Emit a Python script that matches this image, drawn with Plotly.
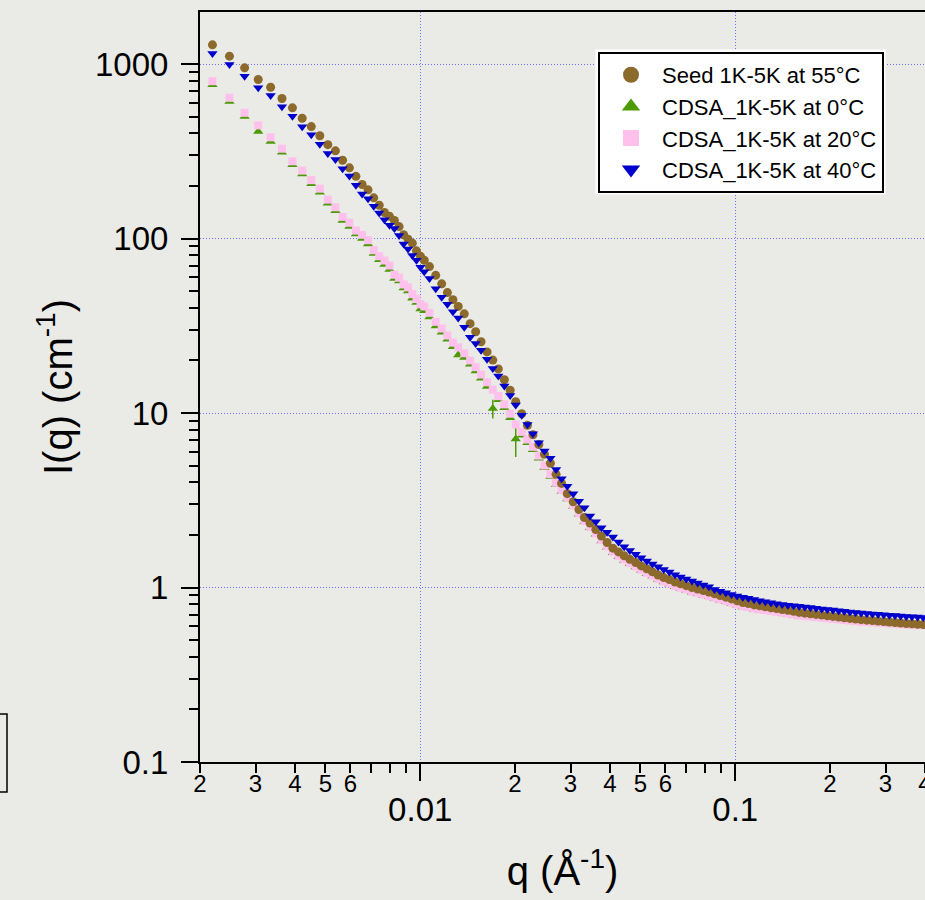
import plotly.graph_objects as go

# ---------------- data ----------------
q = [
    0.00219, 0.00248, 0.00277, 0.00306, 0.00335, 0.00364, 0.00393, 0.00422, 0.00451, 0.00480,
    0.00509, 0.00538, 0.00567, 0.00596, 0.00625, 0.00654, 0.00683, 0.00712, 0.00741, 0.00770,
    0.00799, 0.00828, 0.00857, 0.00886, 0.00915, 0.00944, 0.00973, 0.01002,
    0.0103, 0.0107, 0.0112, 0.0117, 0.0122, 0.0127, 0.0132, 0.0138, 0.0144, 0.0150,
    0.0156, 0.0163, 0.0170, 0.0177, 0.0185, 0.0193, 0.0201, 0.0210, 0.0219, 0.0228,
    0.0238, 0.0248, 0.0259, 0.0270, 0.0281, 0.0293, 0.0306, 0.0319, 0.0332, 0.0346,
    0.0361, 0.0376, 0.0392, 0.0409, 0.0426, 0.0444, 0.0463, 0.0483, 0.0503, 0.0524,
    0.0546, 0.0569, 0.0593, 0.0618, 0.0644, 0.0671, 0.0699, 0.0729, 0.0760, 0.0792,
    0.0825, 0.0860, 0.0896, 0.0934, 0.0973, 0.1014, 0.1057, 0.1101, 0.1148, 0.1196,
    0.1246, 0.1299, 0.1353, 0.1410, 0.1470, 0.1532, 0.1596, 0.1663, 0.1733, 0.1806,
    0.1882, 0.1961, 0.2044, 0.2130, 0.2219, 0.2313, 0.2410, 0.2511, 0.2617, 0.2727,
    0.2842, 0.2962, 0.3086, 0.3216, 0.3351, 0.3492, 0.3639, 0.3793, 0.3952, 0.4119,
]

seed_55 = [
    1288, 1109, 951, 815, 736, 634, 561, 489, 438, 388,
    345, 318, 281, 254, 227, 204, 190, 171, 155, 141,
    134, 127, 117, 105, 99, 94, 85, 79,
    75, 69, 61.5, 55, 49, 44.6, 40.8, 37, 32.5, 29.2,
    25.6, 22.4, 20.1, 17.9, 15.5, 13.5, 11.6, 9.9, 8.5, 7.5,
    6.6, 5.8, 5.15, 4.45, 3.95, 3.45, 3.10, 2.80, 2.52, 2.34,
    2.15, 1.97, 1.81, 1.68, 1.60, 1.52, 1.45, 1.39, 1.33, 1.28,
    1.23, 1.18, 1.14, 1.11, 1.075, 1.05, 1.025, 1.000, 0.98, 0.96,
    0.94, 0.92, 0.90, 0.88, 0.86, 0.84, 0.82, 0.81, 0.795, 0.785,
    0.775, 0.765, 0.757, 0.748, 0.740, 0.730, 0.720, 0.713, 0.707, 0.701,
    0.695, 0.689, 0.683, 0.677, 0.671, 0.665, 0.659, 0.654, 0.650, 0.646,
    0.642, 0.638, 0.634, 0.630, 0.626, 0.622, 0.619, 0.616, 0.613, 0.610,
]

cdsa_0 = [
    760, 610, 500, 410, 360, 312, 265, 234, 206, 184,
    159, 144, 127, 117, 106, 100, 93, 82, 75.5, 71,
    66.5, 59, 57, 52, 50, 45.5, 43, 39.5,
    38.5, 35.5, 31.5, 29, 26.5, 24, 21.5, 20.8, 19.0, 17.4,
    15.8, 14.2, 10.6, 11.9, 10.7, 9.4, 7.1, 7.45, 6.75, 6.15,
    5.5, 4.85, 4.33, 3.88, 3.54, 3.22, 2.91, 2.63, 2.38, 2.20,
    2.02, 1.85, 1.70, 1.58, 1.50, 1.43, 1.37, 1.31, 1.25, 1.20,
    1.16, 1.11, 1.075, 1.045, 1.01, 0.988, 0.965, 0.940, 0.922, 0.903,
    0.884, 0.865, 0.846, 0.828, 0.810, 0.792, 0.774, 0.764, 0.750, 0.741,
    0.734, 0.725, 0.718, 0.710, 0.703, 0.694, 0.685, 0.679, 0.674, 0.669,
    0.664, 0.659, 0.654, 0.649, 0.644, 0.640, 0.635, 0.631, 0.628, 0.625,
    0.622, 0.619, 0.616, 0.613, 0.610, 0.607, 0.605, 0.603, 0.601, 0.599,
]

cdsa_0_err = [
    0, 0, 0, 0, 0, 0, 0, 0, 0, 0,
    0, 0, 0, 0, 0, 0, 0, 0, 0, 0,
    0, 0, 0, 0, 0, 0, 0, 0,
    0, 0, 0, 0, 0, 0, 0, 0, 0, 0,
    0, 0, 1.3, 0, 0, 0, 1.5, 0, 0, 0,
    0, 0, 0, 0, 0, 0, 0, 0, 0, 0,
    0, 0, 0, 0, 0, 0, 0, 0, 0, 0,
    0, 0, 0, 0, 0, 0, 0, 0, 0, 0,
    0, 0, 0, 0, 0, 0, 0, 0, 0, 0,
    0, 0, 0, 0, 0, 0, 0, 0, 0, 0,
    0, 0, 0, 0, 0, 0, 0, 0, 0, 0,
    0, 0, 0, 0, 0, 0, 0, 0, 0, 0,
]

cdsa_20 = [
    797, 640, 525, 445, 380, 327, 277, 245, 216, 193,
    167, 151, 133, 123, 111, 105, 97.8, 85.7, 79.2, 74.8,
    70, 62, 59.6, 54.5, 52.5, 48, 45, 42,
    40.8, 37.5, 33.3, 30.5, 27.8, 25.3, 23.8, 22.0, 20.0, 18.3,
    16.6, 15.0, 13.6, 12.5, 11.2, 9.9, 8.6, 7.8, 7.05, 6.4,
    5.7, 5.0, 4.46, 3.98, 3.62, 3.28, 2.95, 2.66, 2.40, 2.22,
    2.04, 1.87, 1.72, 1.60, 1.52, 1.445, 1.38, 1.32, 1.265, 1.215,
    1.17, 1.12, 1.085, 1.055, 1.02, 0.998, 0.975, 0.950, 0.931, 0.912,
    0.893, 0.874, 0.855, 0.836, 0.818, 0.800, 0.782, 0.772, 0.758, 0.749,
    0.741, 0.732, 0.725, 0.717, 0.710, 0.701, 0.692, 0.686, 0.681, 0.676,
    0.671, 0.666, 0.661, 0.656, 0.651, 0.646, 0.641, 0.637, 0.634, 0.631,
    0.628, 0.625, 0.622, 0.619, 0.616, 0.613, 0.611, 0.609, 0.607, 0.605,
]

cdsa_40 = [
    1148, 993, 851, 730, 660, 568, 502, 437, 393, 347,
    307, 284, 251, 228, 202, 180, 169, 153, 140, 128,
    119, 114, 104, 93, 87, 80, 75, 68.5,
    64.5, 59, 51.5, 46, 42, 38, 35, 31, 27.2, 25.0,
    22.9, 20.3, 18.0, 16.3, 14.3, 12.6, 11.1, 9.7, 8.6, 7.6,
    6.75, 6.05, 5.5, 4.75, 4.2, 3.80, 3.45, 3.12, 2.86, 2.57,
    2.38, 2.20, 2.07, 1.95, 1.82, 1.71, 1.63, 1.55, 1.48, 1.42,
    1.365, 1.315, 1.27, 1.225, 1.185, 1.15, 1.12, 1.09, 1.06, 1.035,
    1.01, 0.975, 0.953, 0.932, 0.912, 0.893, 0.880, 0.868, 0.853, 0.840,
    0.829, 0.818, 0.808, 0.799, 0.792, 0.786, 0.780, 0.773, 0.767, 0.760,
    0.754, 0.748, 0.742, 0.736, 0.730, 0.724, 0.718, 0.714, 0.710, 0.706,
    0.702, 0.698, 0.694, 0.690, 0.686, 0.683, 0.680, 0.677, 0.674, 0.671,
]

series_names = ["Seed 1K-5K at 55°C", "CDSA_1K-5K at 0°C",
                "CDSA_1K-5K at 20°C", "CDSA_1K-5K at 40°C"]

y_tick_vals = [0.1, 1, 10, 100, 1000]
y_tick_text = ["0.1", "1", "10", "100", "1000"]
x_major_vals = [0.01, 0.1]
x_major_text = ["0.01", "0.1"]
x_minor_label_vals = [0.002, 0.003, 0.004, 0.005, 0.006,
                      0.02, 0.03, 0.04, 0.05, 0.06,
                      0.2, 0.3, 0.4]
x_minor_label_text = ["2", "3", "4", "5", "6",
                      "2", "3", "4", "5", "6",
                      "2", "3", "4"]

for arr in (seed_55, cdsa_0, cdsa_0_err, cdsa_20, cdsa_40):
    assert len(arr) == len(q)

# ---------------- style ----------------
BG = "#EAEBE6"
GRID = "#6E6EFF"
C_SEED = "#8C6A2C"
C_0 = "#4C9A06"
C_20 = "#FFC0EC"
C_40 = "#0000CC"
FONT = "Arial, Liberation Sans, sans-serif"

x_minor_ticks = [m * d for d in (0.001, 0.01, 0.1) for m in range(2, 10) if m * d <= 0.4]
y_minor_ticks = [m * d for d in (0.1, 1, 10, 100, 1000) for m in range(2, 10) if m * d < 2000]

fig = go.Figure()

# drawing order: 0°C, 20°C, seed, 40°C
fig.add_trace(go.Scatter(
    x=q, y=cdsa_0, mode="markers", name=series_names[1], showlegend=False,
    marker=dict(symbol="triangle-up", size=9, color=C_0, line=dict(width=0)),
    error_y=dict(type="data", array=cdsa_0_err, visible=True, color=C_0, thickness=1.5, width=0),
))
fig.add_trace(go.Scatter(
    x=q, y=cdsa_20, mode="markers", name=series_names[2], showlegend=False,
    marker=dict(symbol="square", size=8, color=C_20, line=dict(width=0)),
))
fig.add_trace(go.Scatter(
    x=q, y=seed_55, mode="markers", name=series_names[0], showlegend=False,
    marker=dict(symbol="circle", size=9, color=C_SEED, line=dict(width=0)),
))
fig.add_trace(go.Scatter(
    x=q, y=cdsa_40, mode="markers", name=series_names[3], showlegend=False,
    marker=dict(symbol="triangle-down", size=9, color=C_40, line=dict(width=0)),
))

# legend entries (larger symbols, as in the reference legend)
for name, sym, col in zip(series_names,
                          ["circle", "triangle-up", "square", "triangle-down"],
                          [C_SEED, C_0, C_20, C_40]):
    fig.add_trace(go.Scatter(
        x=[None], y=[None], mode="markers", name=name, xaxis="x2",
        marker=dict(symbol=sym, size=16, color=col, line=dict(width=0)),
    ))

x_range = [-2.6991, -0.3975]
y_range = [-1.0, 3.298]

fig.update_layout(
    width=925, height=900,
    margin=dict(l=200, r=0, t=12, b=138),
    paper_bgcolor=BG, plot_bgcolor=BG,
    font=dict(family=FONT, color="black"),
    showlegend=True,
    legend=dict(
        x=0.549, y=0.9467, xanchor="left", yanchor="top",
        bgcolor="white", bordercolor="black", borderwidth=2,
        font=dict(size=22, family=FONT, color="black"),
        itemwidth=52, traceorder="normal",
    ),
    xaxis=dict(
        type="log", range=x_range, autorange=False,
        showline=True, linecolor="black", linewidth=2, mirror=True,
        ticks="outside", ticklen=17, tickwidth=2, tickcolor="black",
        tickvals=x_major_vals, ticktext=x_major_text,
        tickfont=dict(size=33, family=FONT), ticklabelstandoff=0,
        showgrid=True, gridcolor=GRID, gridwidth=1, griddash="1px,2px",
        zeroline=False,
        minor=dict(tickmode="array", tickvals=x_minor_ticks, ticks="outside",
                   ticklen=9, tickwidth=2, tickcolor="black", showgrid=False),
        title=dict(text="q (Å<sup>-1</sup>)", font=dict(size=40, family=FONT), standoff=30),
        automargin=False,
    ),
    xaxis2=dict(
        type="log", range=x_range, autorange=False, overlaying="x", anchor="y", side="bottom",
        showline=False, showgrid=False, zeroline=False, ticks="",
        tickvals=x_minor_label_vals, ticktext=x_minor_label_text,
        tickfont=dict(size=24, family=FONT), ticklabelstandoff=5,
        ticklabeloverflow="allow",
        automargin=False,
    ),
    yaxis=dict(
        type="log", range=y_range, autorange=False,
        showline=True, linecolor="black", linewidth=2, mirror=False,
        ticks="outside", ticklen=17, tickwidth=2, tickcolor="black",
        tickvals=y_tick_vals, ticktext=y_tick_text,
        tickfont=dict(size=33, family=FONT), ticklabelstandoff=6,
        showgrid=True, gridcolor=GRID, gridwidth=1, griddash="1px,2px",
        zeroline=False,
        minor=dict(tickmode="array", tickvals=y_minor_ticks, ticks="outside",
                   ticklen=9, tickwidth=2, tickcolor="black", showgrid=False),
        title=dict(text="I(q) (cm<sup>-1</sup>)", font=dict(size=40, family=FONT), standoff=10),
        automargin=False,
    ),
    shapes=[
        dict(type="rect", xref="paper", yref="paper",
             x0=-0.285, x1=-0.2662, y0=-0.04, y1=0.064,
             line=dict(color="black", width=1.5), fillcolor="rgba(0,0,0,0)", layer="above"),
        # white halo around the legend frame
        dict(type="rect", xref="paper", yref="paper",
             x0=0.5455, x1=0.9455, y0=0.7567, y1=0.95,
             line=dict(width=0), fillcolor="white", layer="above"),
    ],
)

fig.write_html("out.html")
